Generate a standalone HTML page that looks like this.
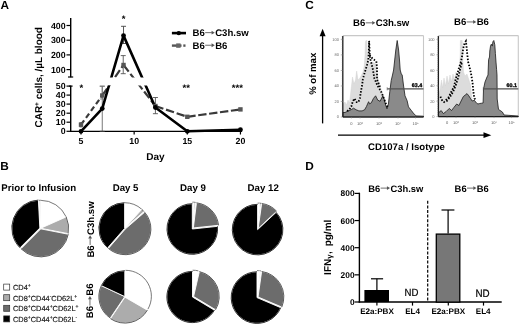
<!DOCTYPE html>
<html><head><meta charset="utf-8"><style>
html,body{margin:0;padding:0;background:#fff;}
svg{display:block;filter:grayscale(1);}
text{font-family:"Liberation Sans",sans-serif;text-rendering:geometricPrecision;}
</style></head><body>
<svg width="520" height="325" viewBox="0 0 520 325" font-family="Liberation Sans, sans-serif">
<rect width="520" height="325" fill="#fff"/>
<text x="0.5" y="9.4" font-size="11.8" font-weight="bold" text-anchor="start" fill="#000" >A</text>
<line x1="70.7" y1="18" x2="70.7" y2="77.3" stroke="#000" stroke-width="1.4" />
<line x1="68" y1="77" x2="73.2" y2="77" stroke="#000" stroke-width="1.2" />
<line x1="66.5" y1="25.5" x2="70.7" y2="25.5" stroke="#000" stroke-width="1.2" />
<text x="65.6" y="28.6" font-size="8.8" font-weight="bold" text-anchor="end" fill="#000" >400</text>
<line x1="66.5" y1="40.2" x2="70.7" y2="40.2" stroke="#000" stroke-width="1.2" />
<text x="65.6" y="43.300000000000004" font-size="8.8" font-weight="bold" text-anchor="end" fill="#000" >300</text>
<line x1="66.5" y1="54.9" x2="70.7" y2="54.9" stroke="#000" stroke-width="1.2" />
<text x="65.6" y="58.0" font-size="8.8" font-weight="bold" text-anchor="end" fill="#000" >200</text>
<line x1="66.5" y1="69.6" x2="70.7" y2="69.6" stroke="#000" stroke-width="1.2" />
<text x="65.6" y="72.69999999999999" font-size="8.8" font-weight="bold" text-anchor="end" fill="#000" >100</text>
<line x1="70.7" y1="85.8" x2="70.7" y2="131.9" stroke="#000" stroke-width="1.4" />
<line x1="68.9" y1="86.1" x2="72.6" y2="86.1" stroke="#000" stroke-width="1.2" />
<line x1="66.5" y1="86.1" x2="70.7" y2="86.1" stroke="#000" stroke-width="1.2" />
<text x="65.6" y="89.19999999999999" font-size="8.8" font-weight="bold" text-anchor="end" fill="#000" >50</text>
<line x1="66.5" y1="95.1" x2="70.7" y2="95.1" stroke="#000" stroke-width="1.2" />
<text x="65.6" y="98.19999999999999" font-size="8.8" font-weight="bold" text-anchor="end" fill="#000" >40</text>
<line x1="66.5" y1="104.1" x2="70.7" y2="104.1" stroke="#000" stroke-width="1.2" />
<text x="65.6" y="107.19999999999999" font-size="8.8" font-weight="bold" text-anchor="end" fill="#000" >30</text>
<line x1="66.5" y1="113.2" x2="70.7" y2="113.2" stroke="#000" stroke-width="1.2" />
<text x="65.6" y="116.3" font-size="8.8" font-weight="bold" text-anchor="end" fill="#000" >20</text>
<line x1="66.5" y1="122.2" x2="70.7" y2="122.2" stroke="#000" stroke-width="1.2" />
<text x="65.6" y="125.3" font-size="8.8" font-weight="bold" text-anchor="end" fill="#000" >10</text>
<line x1="66.5" y1="131.3" x2="70.7" y2="131.3" stroke="#000" stroke-width="1.2" />
<text x="65.6" y="134.4" font-size="8.8" font-weight="bold" text-anchor="end" fill="#000" >0</text>
<line x1="70.0" y1="131.3" x2="242" y2="131.3" stroke="#000" stroke-width="1.3" />
<line x1="81.0" y1="131.3" x2="81.0" y2="134.5" stroke="#000" stroke-width="1.2" />
<text x="81.0" y="143.8" font-size="8.8" font-weight="bold" text-anchor="middle" fill="#000" >5</text>
<line x1="134.15" y1="131.3" x2="134.15" y2="134.5" stroke="#000" stroke-width="1.2" />
<text x="134.15" y="143.8" font-size="8.8" font-weight="bold" text-anchor="middle" fill="#000" >10</text>
<line x1="187.3" y1="131.3" x2="187.3" y2="134.5" stroke="#000" stroke-width="1.2" />
<text x="187.3" y="143.8" font-size="8.8" font-weight="bold" text-anchor="middle" fill="#000" >15</text>
<line x1="240.45000000000002" y1="131.3" x2="240.45000000000002" y2="134.5" stroke="#000" stroke-width="1.2" />
<text x="240.45000000000002" y="143.8" font-size="8.8" font-weight="bold" text-anchor="middle" fill="#000" >20</text>
<text x="155.5" y="160.4" font-size="10" font-weight="bold" text-anchor="middle" fill="#000" >Day</text>
<text transform="translate(41.9,77.3) rotate(-90)" font-size="10" font-weight="bold" text-anchor="middle" fill="#000">CAR<tspan font-size="6.5" dy="-2.9">+</tspan><tspan dy="2.9"> cells, /µL blood</tspan></text>
<line x1="102.26" y1="86.2" x2="102.26" y2="131.3" stroke="#555" stroke-width="0.8" />
<line x1="99.76" y1="86.2" x2="104.76" y2="86.2" stroke="#555" stroke-width="0.8" />
<line x1="99.76" y1="131.3" x2="104.76" y2="131.3" stroke="#555" stroke-width="0.8" />
<line x1="123.52000000000001" y1="26.3" x2="123.52000000000001" y2="43.5" stroke="#444" stroke-width="0.9" />
<line x1="121.02000000000001" y1="26.3" x2="126.02000000000001" y2="26.3" stroke="#444" stroke-width="0.9" />
<line x1="121.02000000000001" y1="43.5" x2="126.02000000000001" y2="43.5" stroke="#444" stroke-width="0.9" />
<line x1="123.22000000000001" y1="55.6" x2="123.22000000000001" y2="73.7" stroke="#555" stroke-width="0.9" />
<line x1="120.72000000000001" y1="55.6" x2="125.72000000000001" y2="55.6" stroke="#555" stroke-width="0.9" />
<line x1="120.72000000000001" y1="73.7" x2="125.72000000000001" y2="73.7" stroke="#555" stroke-width="0.9" />
<line x1="155.41000000000003" y1="97.5" x2="155.41000000000003" y2="113.7" stroke="#555" stroke-width="0.9" />
<line x1="152.91000000000003" y1="97.5" x2="157.91000000000003" y2="97.5" stroke="#555" stroke-width="0.9" />
<line x1="152.91000000000003" y1="113.7" x2="157.91000000000003" y2="113.7" stroke="#555" stroke-width="0.9" />
<line x1="81.0" y1="122.5" x2="81.0" y2="127" stroke="#666" stroke-width="0.8" />
<line x1="79.5" y1="122.5" x2="82.5" y2="122.5" stroke="#666" stroke-width="0.8" />
<line x1="79.5" y1="127" x2="82.5" y2="127" stroke="#666" stroke-width="0.8" />
<line x1="102.26" y1="86.2" x2="102.26" y2="99" stroke="#777" stroke-width="0.8" />
<line x1="99.76" y1="86.2" x2="104.76" y2="86.2" stroke="#777" stroke-width="0.8" />
<line x1="99.76" y1="99" x2="104.76" y2="99" stroke="#777" stroke-width="0.8" />
<defs><clipPath id="brk"><rect x="0" y="0" width="300" height="77.6"/><rect x="0" y="85.6" width="300" height="60"/></clipPath></defs>
<g clip-path="url(#brk)">
<line x1="81.00" y1="124.7" x2="102.26" y2="95.5" stroke="#3a3a3a" stroke-width="2.2" stroke-dasharray="5.3,3.2"/>
<line x1="102.26" y1="95.5" x2="123.52" y2="65.0" stroke="#3a3a3a" stroke-width="2.2" stroke-dasharray="8.4,2.8"/>
<line x1="123.52" y1="65.0" x2="155.41" y2="106.0" stroke="#3a3a3a" stroke-width="2.2" stroke-dasharray="8.4,2.8"/>
<line x1="155.41" y1="106.0" x2="187.30" y2="116.8" stroke="#3a3a3a" stroke-width="2.2" stroke-dasharray="8.4,2.8"/>
<line x1="187.30" y1="116.8" x2="240.45" y2="109.4" stroke="#3a3a3a" stroke-width="2.2" stroke-dasharray="8.4,2.6"/>
<polyline points="81.00,131.3 102.26,108.6 123.52,35.6 155.41,107.5 187.30,131.3 240.45,129.7" fill="none" stroke="#000" stroke-width="2.6" stroke-linejoin="round"/></g>
<rect x="78.80" y="122.5" width="4.4" height="4.4" fill="#555"/>
<rect x="100.06" y="93.3" width="4.4" height="4.4" fill="#555"/>
<rect x="121.32" y="62.8" width="4.4" height="4.4" fill="#555"/>
<rect x="153.21" y="103.8" width="4.4" height="4.4" fill="#555"/>
<rect x="185.10" y="114.6" width="4.4" height="4.4" fill="#555"/>
<rect x="238.25" y="107.2" width="4.4" height="4.4" fill="#555"/>
<circle cx="81.00" cy="131.3" r="2.4" fill="#000"/>
<circle cx="102.26" cy="108.6" r="2.4" fill="#000"/>
<circle cx="123.52" cy="35.6" r="2.4" fill="#000"/>
<circle cx="155.41" cy="107.5" r="2.4" fill="#000"/>
<circle cx="187.30" cy="131.3" r="2.4" fill="#000"/>
<circle cx="240.45" cy="129.7" r="2.4" fill="#000"/>
<text x="81.3" y="91.0" font-size="9.5" font-weight="bold" text-anchor="middle" fill="#000" >*</text>
<text x="123.5" y="21.8" font-size="9.5" font-weight="bold" text-anchor="middle" fill="#000" >*</text>
<text x="186.2" y="90.5" font-size="9.5" font-weight="bold" text-anchor="middle" fill="#000" >**</text>
<text x="237.4" y="90.5" font-size="9.5" font-weight="bold" text-anchor="middle" fill="#000" >***</text>
<line x1="171.9" y1="33.1" x2="186" y2="33.1" stroke="#000" stroke-width="2.6" />
<circle cx="178.8" cy="33.1" r="2.2" fill="#000"/>
<line x1="171.9" y1="45.6" x2="181.5" y2="45.6" stroke="#555" stroke-width="2.4" />
<line x1="183.3" y1="45.6" x2="185.5" y2="45.6" stroke="#555" stroke-width="2.4" />
<rect x="176.2" y="43.4" width="4.4" height="4.4" fill="#666"/>
<g transform="translate(192.5,36.1)"><text x="0.00" y="0" font-size="9.6" font-weight="bold">B6</text><line x1="12.66" y1="-3.46" x2="19.39" y2="-3.46" stroke="#555" stroke-width="0.86"/><polygon points="19.09,-5.38 22.26,-3.46 19.09,-1.54" fill="#555"/><text x="22.64" y="0" font-size="9.6" font-weight="bold">C3h.sw</text></g>
<g transform="translate(192.5,48.7)"><text x="0.00" y="0" font-size="9.6" font-weight="bold">B6</text><line x1="12.66" y1="-3.46" x2="19.39" y2="-3.46" stroke="#555" stroke-width="0.86"/><polygon points="19.09,-5.38 22.26,-3.46 19.09,-1.54" fill="#555"/><text x="22.64" y="0" font-size="9.6" font-weight="bold">B6</text></g>
<text x="305.2" y="9.4" font-size="11.8" font-weight="bold" text-anchor="start" fill="#000" >C</text>
<g transform="translate(381.2,26.3)"><text x="-28.12" y="0" font-size="9.6" font-weight="bold">B6</text><line x1="-15.47" y1="-3.46" x2="-8.74" y2="-3.46" stroke="#555" stroke-width="0.86"/><polygon points="-9.04,-5.38 -5.87,-3.46 -9.04,-1.54" fill="#555"/><text x="-5.48" y="0" font-size="9.6" font-weight="bold">C3h.sw</text></g>
<g transform="translate(471.5,25.4)"><text x="-17.46" y="0" font-size="9.6" font-weight="bold">B6</text><line x1="-4.80" y1="-3.46" x2="1.93" y2="-3.46" stroke="#555" stroke-width="0.86"/><polygon points="1.63,-5.38 4.80,-3.46 1.63,-1.54" fill="#555"/><text x="5.18" y="0" font-size="9.6" font-weight="bold">B6</text></g>
<line x1="322.6" y1="35" x2="322.6" y2="123.4" stroke="#000" stroke-width="1.3" />
<polygon points="319.6,36.3 325.6,36.3 322.6,28.8" fill="#000"/>
<text transform="translate(316.4,73.8) rotate(-90)" font-size="9.6" font-weight="bold" text-anchor="middle" fill="#000">% of max</text>
<line x1="338" y1="135.2" x2="485" y2="135.2" stroke="#000" stroke-width="1.3" />
<polygon points="483.5,132.3 483.5,138.1 491.3,135.2" fill="#000"/>
<text x="368.1" y="150" font-size="9.6" font-weight="bold" text-anchor="start" fill="#000" >CD107a / Isotype</text>
<line x1="342.8" y1="35.6" x2="423.5" y2="35.6" stroke="#c8c8c8" stroke-width="1.4" />
<line x1="423.5" y1="35.6" x2="423.5" y2="117.0" stroke="#c8c8c8" stroke-width="1.1" />
<polygon points="343.0,117.0 343.0,104.0 345.0,102.0 346.5,105.0 348.0,100.0 349.5,103.0 351.0,90.0 352.5,77.0 354.0,84.0 355.5,80.0 356.7,71.0 358.0,80.0 360.0,78.0 361.5,75.0 363.0,72.0 364.2,66.0 365.0,55.0 365.4,42.0 366.0,40.5 366.8,40.5 367.2,50.0 368.0,60.0 370.0,64.0 372.0,62.0 374.0,63.0 376.0,64.0 377.0,70.0 378.0,78.0 380.0,86.0 382.0,92.0 384.0,98.0 386.0,106.0 387.0,117.0" fill="#dcdcdc" stroke="#d0d0d0" stroke-width="0.4"/>
<polygon points="343.0,117.0 343.0,112.5 345.0,112.5 348.0,111.0 351.3,109.6 353.5,108.2 356.2,109.8 358.9,110.9 362.1,110.9 364.6,109.8 366.4,106.6 368.6,101.7 369.6,103.9 371.3,102.8 373.4,98.5 375.6,95.8 377.7,100.1 380.1,101.3 382.8,95.8 384.2,99.2 385.6,104.8 387.0,108.9 388.4,104.1 389.8,91.6 391.2,80.5 392.5,75.0 393.6,70.0 394.7,60.0 395.8,50.0 397.2,40.5 398.6,50.0 399.5,60.0 400.2,70.0 401.3,74.0 402.2,75.0 403.6,86.1 405.0,95.8 407.1,100.6 408.5,106.9 411.2,110.3 413.3,113.1 416.1,115.9 423.5,116.2 423.5,117.0" fill="#8a8a8a" stroke="#1a1a1a" stroke-width="0.8" stroke-linejoin="round"/>
<polyline points="347.0,111.0 349.0,110.0 351.3,106.6 352.7,101.7 354.5,98.5 356.7,102.2 358.3,102.2 359.9,98.5 360.5,94.2 361.3,89.3 362.1,85.5 362.8,79.6 364.0,75.0 365.5,70.0 367.0,65.0 368.3,60.0 368.8,52.0 369.0,45.0 369.1,40.8 369.4,46.0 369.6,52.0 370.0,58.0 371.6,64.0 373.0,70.0 373.8,75.0 374.4,78.5 377.5,85.7 380.8,90.9 382.7,95.4 384.5,100.0 386.0,104.0 388.0,108.0" fill="none" stroke="#000" stroke-width="1.8" stroke-dasharray="1.5,1.6"/>
<polyline points="369.6,55.0 372.0,58.0 374.5,60.0 376.3,61.2 377.0,67.3 377.0,79.6 380.6,88.3" fill="none" stroke="#000" stroke-width="1.8" stroke-dasharray="1.5,1.6"/>
<line x1="342.8" y1="36.1" x2="342.8" y2="117.0" stroke="#1a1a1a" stroke-width="1.3" />
<line x1="340.8" y1="117.0" x2="342.8" y2="117.0" stroke="#888" stroke-width="0.6" />
<text x="339.0" y="118.4" font-size="4.0" text-anchor="end" fill="#666">0</text>
<line x1="340.8" y1="101.48" x2="342.8" y2="101.48" stroke="#888" stroke-width="0.6" />
<text x="339.0" y="102.88000000000001" font-size="4.0" text-anchor="end" fill="#666">20</text>
<line x1="340.8" y1="85.96" x2="342.8" y2="85.96" stroke="#888" stroke-width="0.6" />
<text x="339.0" y="87.36" font-size="4.0" text-anchor="end" fill="#666">40</text>
<line x1="340.8" y1="70.44" x2="342.8" y2="70.44" stroke="#888" stroke-width="0.6" />
<text x="339.0" y="71.84" font-size="4.0" text-anchor="end" fill="#666">60</text>
<line x1="340.8" y1="54.919999999999995" x2="342.8" y2="54.919999999999995" stroke="#888" stroke-width="0.6" />
<text x="339.0" y="56.31999999999999" font-size="4.0" text-anchor="end" fill="#666">80</text>
<line x1="340.8" y1="39.39999999999999" x2="342.8" y2="39.39999999999999" stroke="#888" stroke-width="0.6" />
<text x="339.0" y="40.79999999999999" font-size="4.0" text-anchor="end" fill="#666">100</text>
<line x1="341.8" y1="36.6" x2="342.8" y2="36.6" stroke="#555" stroke-width="0.4" />
<line x1="341.8" y1="38.61" x2="342.8" y2="38.61" stroke="#555" stroke-width="0.4" />
<line x1="341.8" y1="40.620000000000005" x2="342.8" y2="40.620000000000005" stroke="#555" stroke-width="0.4" />
<line x1="341.8" y1="42.63" x2="342.8" y2="42.63" stroke="#555" stroke-width="0.4" />
<line x1="341.8" y1="44.64" x2="342.8" y2="44.64" stroke="#555" stroke-width="0.4" />
<line x1="341.8" y1="46.650000000000006" x2="342.8" y2="46.650000000000006" stroke="#555" stroke-width="0.4" />
<line x1="341.8" y1="48.660000000000004" x2="342.8" y2="48.660000000000004" stroke="#555" stroke-width="0.4" />
<line x1="341.8" y1="50.67" x2="342.8" y2="50.67" stroke="#555" stroke-width="0.4" />
<line x1="341.8" y1="52.68000000000001" x2="342.8" y2="52.68000000000001" stroke="#555" stroke-width="0.4" />
<line x1="341.8" y1="54.69" x2="342.8" y2="54.69" stroke="#555" stroke-width="0.4" />
<line x1="341.8" y1="56.7" x2="342.8" y2="56.7" stroke="#555" stroke-width="0.4" />
<line x1="341.8" y1="58.71000000000001" x2="342.8" y2="58.71000000000001" stroke="#555" stroke-width="0.4" />
<line x1="341.8" y1="60.72" x2="342.8" y2="60.72" stroke="#555" stroke-width="0.4" />
<line x1="341.8" y1="62.730000000000004" x2="342.8" y2="62.730000000000004" stroke="#555" stroke-width="0.4" />
<line x1="341.8" y1="64.74000000000001" x2="342.8" y2="64.74000000000001" stroke="#555" stroke-width="0.4" />
<line x1="341.8" y1="66.75" x2="342.8" y2="66.75" stroke="#555" stroke-width="0.4" />
<line x1="341.8" y1="68.76" x2="342.8" y2="68.76" stroke="#555" stroke-width="0.4" />
<line x1="341.8" y1="70.77000000000001" x2="342.8" y2="70.77000000000001" stroke="#555" stroke-width="0.4" />
<line x1="341.8" y1="72.78" x2="342.8" y2="72.78" stroke="#555" stroke-width="0.4" />
<line x1="341.8" y1="74.79" x2="342.8" y2="74.79" stroke="#555" stroke-width="0.4" />
<line x1="341.8" y1="76.80000000000001" x2="342.8" y2="76.80000000000001" stroke="#555" stroke-width="0.4" />
<line x1="341.8" y1="78.81" x2="342.8" y2="78.81" stroke="#555" stroke-width="0.4" />
<line x1="341.8" y1="80.82000000000001" x2="342.8" y2="80.82000000000001" stroke="#555" stroke-width="0.4" />
<line x1="341.8" y1="82.83000000000001" x2="342.8" y2="82.83000000000001" stroke="#555" stroke-width="0.4" />
<line x1="341.8" y1="84.84" x2="342.8" y2="84.84" stroke="#555" stroke-width="0.4" />
<line x1="341.8" y1="86.85000000000001" x2="342.8" y2="86.85000000000001" stroke="#555" stroke-width="0.4" />
<line x1="341.8" y1="88.86000000000001" x2="342.8" y2="88.86000000000001" stroke="#555" stroke-width="0.4" />
<line x1="341.8" y1="90.87" x2="342.8" y2="90.87" stroke="#555" stroke-width="0.4" />
<line x1="341.8" y1="92.88000000000001" x2="342.8" y2="92.88000000000001" stroke="#555" stroke-width="0.4" />
<line x1="341.8" y1="94.89000000000001" x2="342.8" y2="94.89000000000001" stroke="#555" stroke-width="0.4" />
<line x1="341.8" y1="96.9" x2="342.8" y2="96.9" stroke="#555" stroke-width="0.4" />
<line x1="341.8" y1="98.91" x2="342.8" y2="98.91" stroke="#555" stroke-width="0.4" />
<line x1="341.8" y1="100.92000000000002" x2="342.8" y2="100.92000000000002" stroke="#555" stroke-width="0.4" />
<line x1="341.8" y1="102.93" x2="342.8" y2="102.93" stroke="#555" stroke-width="0.4" />
<line x1="341.8" y1="104.94" x2="342.8" y2="104.94" stroke="#555" stroke-width="0.4" />
<line x1="341.8" y1="106.94999999999999" x2="342.8" y2="106.94999999999999" stroke="#555" stroke-width="0.4" />
<line x1="341.8" y1="108.96000000000001" x2="342.8" y2="108.96000000000001" stroke="#555" stroke-width="0.4" />
<line x1="341.8" y1="110.97" x2="342.8" y2="110.97" stroke="#555" stroke-width="0.4" />
<line x1="341.8" y1="112.98000000000002" x2="342.8" y2="112.98000000000002" stroke="#555" stroke-width="0.4" />
<line x1="341.8" y1="114.99000000000001" x2="342.8" y2="114.99000000000001" stroke="#555" stroke-width="0.4" />
<line x1="342.8" y1="117.0" x2="423.5" y2="117.0" stroke="#1a1a1a" stroke-width="1.1" />
<line x1="351.4" y1="117.0" x2="351.4" y2="118.5" stroke="#888" stroke-width="0.5" />
<text x="351.4" y="124.6" font-size="4.0" text-anchor="middle" fill="#555">0</text>
<line x1="360" y1="117.0" x2="360" y2="118.5" stroke="#888" stroke-width="0.5" />
<text x="360" y="124.6" font-size="4.0" text-anchor="middle" fill="#555">10²</text>
<line x1="379" y1="117.0" x2="379" y2="118.5" stroke="#888" stroke-width="0.5" />
<text x="379" y="124.6" font-size="4.0" text-anchor="middle" fill="#555">10³</text>
<line x1="398" y1="117.0" x2="398" y2="118.5" stroke="#888" stroke-width="0.5" />
<text x="398" y="124.6" font-size="4.0" text-anchor="middle" fill="#555">10⁴</text>
<line x1="415.5" y1="117.0" x2="415.5" y2="118.5" stroke="#888" stroke-width="0.5" />
<text x="415.5" y="124.6" font-size="4.0" text-anchor="middle" fill="#555">10⁵</text>
<line x1="387.2" y1="88.8" x2="423.5" y2="88.8" stroke="#505050" stroke-width="1.3" />
<line x1="387.2" y1="87.2" x2="387.2" y2="90.39999999999999" stroke="#555" stroke-width="0.6" />
<text x="422.1" y="86.8" font-size="5.3" font-weight="bold" text-anchor="end" fill="#000" stroke="#000" stroke-width="0.3">63.4</text>
<line x1="438.4" y1="35.6" x2="518.3" y2="35.6" stroke="#c8c8c8" stroke-width="1.4" />
<line x1="518.3" y1="35.6" x2="518.3" y2="116.6" stroke="#c8c8c8" stroke-width="1.1" />
<polygon points="438.5,116.6 438.5,95.0 440.0,90.0 441.5,80.0 442.6,88.0 444.0,78.0 445.5,86.0 447.0,76.0 448.5,84.0 450.0,75.0 451.5,82.0 453.0,74.0 454.5,80.0 456.0,72.0 457.5,78.0 459.0,70.0 460.2,55.0 460.4,40.5 462.2,40.5 462.6,55.0 463.5,72.0 465.0,76.0 467.0,74.0 469.0,80.0 470.5,85.0 471.5,95.0 473.0,104.0 475.0,116.6" fill="#dcdcdc" stroke="#d0d0d0" stroke-width="0.4"/>
<polygon points="438.5,116.6 438.5,112.8 441.2,110.6 443.4,113.6 446.3,111.4 449.3,108.4 451.5,110.6 453.7,107.7 456.7,104.0 458.9,105.5 461.1,101.0 463.3,96.6 465.2,95.1 467.0,93.6 468.8,95.8 470.7,98.8 472.2,101.0 474.4,100.3 476.6,103.2 478.0,104.0 479.6,103.5 481.8,103.2 483.1,103.0 483.5,89.0 485.0,82.0 487.0,77.0 488.0,75.0 488.6,59.6 489.5,57.0 489.8,51.0 490.5,46.1 491.3,44.2 492.3,46.1 492.9,41.8 493.8,40.5 494.8,44.8 495.4,53.5 496.0,62.1 496.6,69.5 497.0,75.0 497.2,99.0 498.5,109.4 502.4,112.0 504.0,115.0 518.3,116.0 518.3,116.6" fill="#8a8a8a" stroke="#1a1a1a" stroke-width="0.8" stroke-linejoin="round"/>
<polyline points="440.4,96.6 442.4,101.0 444.0,102.0 446.0,100.0 448.5,97.5 451.2,92.0 453.9,86.8 455.6,79.6 457.4,73.4 459.2,67.1 461.0,61.8 462.3,55.0 463.3,48.0 464.5,43.5 465.9,41.2 466.6,47.3 467.2,53.5 468.1,61.8 469.5,67.0 470.8,72.5 471.8,78.0 472.6,83.2 473.5,93.0 474.4,98.4 476.0,100.0" fill="none" stroke="#000" stroke-width="1.8" stroke-dasharray="1.5,1.6"/>
<polyline points="446.5,101.5 450.0,97.0 453.0,92.0 455.5,86.0 457.5,80.0 459.0,74.0 460.5,68.0 462.0,62.0" fill="none" stroke="#000" stroke-width="1.8" stroke-dasharray="1.5,1.6"/>
<line x1="438.4" y1="36.1" x2="438.4" y2="116.6" stroke="#1a1a1a" stroke-width="1.3" />
<line x1="436.4" y1="116.6" x2="438.4" y2="116.6" stroke="#888" stroke-width="0.6" />
<text x="434.59999999999997" y="118.0" font-size="4.0" text-anchor="end" fill="#666">0</text>
<line x1="436.4" y1="101.16" x2="438.4" y2="101.16" stroke="#888" stroke-width="0.6" />
<text x="434.59999999999997" y="102.56" font-size="4.0" text-anchor="end" fill="#666">20</text>
<line x1="436.4" y1="85.72" x2="438.4" y2="85.72" stroke="#888" stroke-width="0.6" />
<text x="434.59999999999997" y="87.12" font-size="4.0" text-anchor="end" fill="#666">40</text>
<line x1="436.4" y1="70.27999999999999" x2="438.4" y2="70.27999999999999" stroke="#888" stroke-width="0.6" />
<text x="434.59999999999997" y="71.67999999999999" font-size="4.0" text-anchor="end" fill="#666">60</text>
<line x1="436.4" y1="54.83999999999999" x2="438.4" y2="54.83999999999999" stroke="#888" stroke-width="0.6" />
<text x="434.59999999999997" y="56.23999999999999" font-size="4.0" text-anchor="end" fill="#666">80</text>
<line x1="436.4" y1="39.39999999999999" x2="438.4" y2="39.39999999999999" stroke="#888" stroke-width="0.6" />
<text x="434.59999999999997" y="40.79999999999999" font-size="4.0" text-anchor="end" fill="#666">100</text>
<line x1="437.4" y1="36.6" x2="438.4" y2="36.6" stroke="#555" stroke-width="0.4" />
<line x1="437.4" y1="38.6" x2="438.4" y2="38.6" stroke="#555" stroke-width="0.4" />
<line x1="437.4" y1="40.6" x2="438.4" y2="40.6" stroke="#555" stroke-width="0.4" />
<line x1="437.4" y1="42.6" x2="438.4" y2="42.6" stroke="#555" stroke-width="0.4" />
<line x1="437.4" y1="44.6" x2="438.4" y2="44.6" stroke="#555" stroke-width="0.4" />
<line x1="437.4" y1="46.6" x2="438.4" y2="46.6" stroke="#555" stroke-width="0.4" />
<line x1="437.4" y1="48.6" x2="438.4" y2="48.6" stroke="#555" stroke-width="0.4" />
<line x1="437.4" y1="50.6" x2="438.4" y2="50.6" stroke="#555" stroke-width="0.4" />
<line x1="437.4" y1="52.6" x2="438.4" y2="52.6" stroke="#555" stroke-width="0.4" />
<line x1="437.4" y1="54.6" x2="438.4" y2="54.6" stroke="#555" stroke-width="0.4" />
<line x1="437.4" y1="56.6" x2="438.4" y2="56.6" stroke="#555" stroke-width="0.4" />
<line x1="437.4" y1="58.6" x2="438.4" y2="58.6" stroke="#555" stroke-width="0.4" />
<line x1="437.4" y1="60.6" x2="438.4" y2="60.6" stroke="#555" stroke-width="0.4" />
<line x1="437.4" y1="62.6" x2="438.4" y2="62.6" stroke="#555" stroke-width="0.4" />
<line x1="437.4" y1="64.6" x2="438.4" y2="64.6" stroke="#555" stroke-width="0.4" />
<line x1="437.4" y1="66.6" x2="438.4" y2="66.6" stroke="#555" stroke-width="0.4" />
<line x1="437.4" y1="68.6" x2="438.4" y2="68.6" stroke="#555" stroke-width="0.4" />
<line x1="437.4" y1="70.6" x2="438.4" y2="70.6" stroke="#555" stroke-width="0.4" />
<line x1="437.4" y1="72.6" x2="438.4" y2="72.6" stroke="#555" stroke-width="0.4" />
<line x1="437.4" y1="74.6" x2="438.4" y2="74.6" stroke="#555" stroke-width="0.4" />
<line x1="437.4" y1="76.6" x2="438.4" y2="76.6" stroke="#555" stroke-width="0.4" />
<line x1="437.4" y1="78.6" x2="438.4" y2="78.6" stroke="#555" stroke-width="0.4" />
<line x1="437.4" y1="80.6" x2="438.4" y2="80.6" stroke="#555" stroke-width="0.4" />
<line x1="437.4" y1="82.6" x2="438.4" y2="82.6" stroke="#555" stroke-width="0.4" />
<line x1="437.4" y1="84.6" x2="438.4" y2="84.6" stroke="#555" stroke-width="0.4" />
<line x1="437.4" y1="86.6" x2="438.4" y2="86.6" stroke="#555" stroke-width="0.4" />
<line x1="437.4" y1="88.6" x2="438.4" y2="88.6" stroke="#555" stroke-width="0.4" />
<line x1="437.4" y1="90.6" x2="438.4" y2="90.6" stroke="#555" stroke-width="0.4" />
<line x1="437.4" y1="92.6" x2="438.4" y2="92.6" stroke="#555" stroke-width="0.4" />
<line x1="437.4" y1="94.6" x2="438.4" y2="94.6" stroke="#555" stroke-width="0.4" />
<line x1="437.4" y1="96.6" x2="438.4" y2="96.6" stroke="#555" stroke-width="0.4" />
<line x1="437.4" y1="98.6" x2="438.4" y2="98.6" stroke="#555" stroke-width="0.4" />
<line x1="437.4" y1="100.6" x2="438.4" y2="100.6" stroke="#555" stroke-width="0.4" />
<line x1="437.4" y1="102.6" x2="438.4" y2="102.6" stroke="#555" stroke-width="0.4" />
<line x1="437.4" y1="104.6" x2="438.4" y2="104.6" stroke="#555" stroke-width="0.4" />
<line x1="437.4" y1="106.6" x2="438.4" y2="106.6" stroke="#555" stroke-width="0.4" />
<line x1="437.4" y1="108.6" x2="438.4" y2="108.6" stroke="#555" stroke-width="0.4" />
<line x1="437.4" y1="110.6" x2="438.4" y2="110.6" stroke="#555" stroke-width="0.4" />
<line x1="437.4" y1="112.6" x2="438.4" y2="112.6" stroke="#555" stroke-width="0.4" />
<line x1="437.4" y1="114.6" x2="438.4" y2="114.6" stroke="#555" stroke-width="0.4" />
<line x1="438.4" y1="116.6" x2="518.3" y2="116.6" stroke="#1a1a1a" stroke-width="1.1" />
<line x1="447" y1="116.6" x2="447" y2="118.1" stroke="#888" stroke-width="0.5" />
<text x="447" y="124.19999999999999" font-size="4.0" text-anchor="middle" fill="#555">0</text>
<line x1="456" y1="116.6" x2="456" y2="118.1" stroke="#888" stroke-width="0.5" />
<text x="456" y="124.19999999999999" font-size="4.0" text-anchor="middle" fill="#555">10²</text>
<line x1="475" y1="116.6" x2="475" y2="118.1" stroke="#888" stroke-width="0.5" />
<text x="475" y="124.19999999999999" font-size="4.0" text-anchor="middle" fill="#555">10³</text>
<line x1="494" y1="116.6" x2="494" y2="118.1" stroke="#888" stroke-width="0.5" />
<text x="494" y="124.19999999999999" font-size="4.0" text-anchor="middle" fill="#555">10⁴</text>
<line x1="511.5" y1="116.6" x2="511.5" y2="118.1" stroke="#888" stroke-width="0.5" />
<text x="511.5" y="124.19999999999999" font-size="4.0" text-anchor="middle" fill="#555">10⁵</text>
<line x1="483.3" y1="88.9" x2="518.3" y2="88.9" stroke="#505050" stroke-width="1.3" />
<line x1="483.3" y1="87.30000000000001" x2="483.3" y2="90.5" stroke="#555" stroke-width="0.6" />
<text x="516.9" y="86.9" font-size="5.3" font-weight="bold" text-anchor="end" fill="#000" stroke="#000" stroke-width="0.3">60.1</text>
<text x="0.3" y="169.6" font-size="11.8" font-weight="bold" text-anchor="start" fill="#000" >B</text>
<text x="1.3" y="190.8" font-size="9.7" font-weight="bold" text-anchor="start" fill="#000" >Prior to Infusion</text>
<text x="125.6" y="190.8" font-size="9.7" font-weight="bold" text-anchor="middle" fill="#000" >Day 5</text>
<text x="193.0" y="190.8" font-size="9.7" font-weight="bold" text-anchor="middle" fill="#000" >Day 9</text>
<text x="263.2" y="190.8" font-size="9.7" font-weight="bold" text-anchor="middle" fill="#000" >Day 12</text>
<g transform="translate(93.6,229.5) rotate(-90)"><text x="-28.12" y="0" font-size="9.6" font-weight="bold">B6</text><line x1="-15.47" y1="-3.46" x2="-8.74" y2="-3.46" stroke="#555" stroke-width="0.86"/><polygon points="-9.04,-5.38 -5.87,-3.46 -9.04,-1.54" fill="#555"/><text x="-5.48" y="0" font-size="9.6" font-weight="bold">C3h.sw</text></g>
<g transform="translate(93.4,300.8) rotate(-90)"><text x="-17.46" y="0" font-size="9.6" font-weight="bold">B6</text><line x1="-4.80" y1="-3.46" x2="1.93" y2="-3.46" stroke="#555" stroke-width="0.86"/><polygon points="1.63,-5.38 4.80,-3.46 1.63,-1.54" fill="#555"/><text x="5.18" y="0" font-size="9.6" font-weight="bold">B6</text></g>
<path d="M40.60,228.30 L40.60,200.30 A28.0,28.0 0 0 1 66.18,216.91 Z" fill="#ffffff" stroke="#fff" stroke-width="0.9" stroke-linejoin="round"/>
<path d="M40.60,200.30 A28.0,28.0 0 0 1 66.18,216.91" fill="none" stroke="#555" stroke-width="0.8"/>
<path d="M40.60,228.30 L66.18,216.91 A28.0,28.0 0 0 1 68.09,233.64 Z" fill="#acacac" stroke="#fff" stroke-width="0.9" stroke-linejoin="round"/>
<path d="M66.18,216.91 A28.0,28.0 0 0 1 68.09,233.64" fill="none" stroke="#333" stroke-width="0.8"/>
<path d="M40.78,228.87 L68.26,234.22 A28.0,28.0 0 0 1 20.98,248.67 Z" fill="#6c6c6c" stroke="#fff" stroke-width="0.9" stroke-linejoin="round"/>
<path d="M68.26,234.22 A28.0,28.0 0 0 1 20.98,248.67" fill="none" stroke="#333" stroke-width="0.8"/>
<path d="M39.85,228.01 L20.05,247.81 A28.0,28.0 0 0 1 38.39,200.05 Z" fill="#000000" stroke="#fff" stroke-width="0.9" stroke-linejoin="round"/>
<path d="M20.05,247.81 A28.0,28.0 0 0 1 38.39,200.05" fill="none" stroke="#000" stroke-width="0.8"/>
<path d="M40.60,228.30 L39.13,200.34 A28.0,28.0 0 0 1 40.60,200.30 Z" fill="#acacac" stroke="#fff" stroke-width="0.9" stroke-linejoin="round"/>
<path d="M39.13,200.34 A28.0,28.0 0 0 1 40.60,200.30" fill="none" stroke="#333" stroke-width="0.8"/>
<path d="M124.60,228.40 L124.60,202.70 A25.7,25.7 0 0 1 141.80,209.30 Z" fill="#ffffff" stroke="#fff" stroke-width="0.9" stroke-linejoin="round"/>
<path d="M124.60,202.70 A25.7,25.7 0 0 1 141.80,209.30" fill="none" stroke="#555" stroke-width="0.8"/>
<path d="M124.60,228.40 L141.80,209.30 A25.7,25.7 0 0 1 144.00,211.54 Z" fill="#acacac" stroke="#fff" stroke-width="0.9" stroke-linejoin="round"/>
<path d="M141.80,209.30 A25.7,25.7 0 0 1 144.00,211.54" fill="none" stroke="#333" stroke-width="0.8"/>
<path d="M125.24,229.04 L144.63,212.18 A25.7,25.7 0 0 1 108.38,248.43 Z" fill="#6c6c6c" stroke="#fff" stroke-width="0.9" stroke-linejoin="round"/>
<path d="M144.63,212.18 A25.7,25.7 0 0 1 108.38,248.43" fill="none" stroke="#333" stroke-width="0.8"/>
<path d="M124.60,228.40 L107.74,247.80 A25.7,25.7 0 0 1 124.60,202.70 Z" fill="#000000" stroke="#fff" stroke-width="0.9" stroke-linejoin="round"/>
<path d="M107.74,247.80 A25.7,25.7 0 0 1 124.60,202.70" fill="none" stroke="#000" stroke-width="0.8"/>
<path d="M192.35,227.50 L192.35,202.20 A25.3,25.3 0 0 1 194.12,202.26 Z" fill="#ffffff" stroke="#fff" stroke-width="0.9" stroke-linejoin="round"/>
<path d="M192.35,202.20 A25.3,25.3 0 0 1 194.12,202.26" fill="none" stroke="#555" stroke-width="0.8"/>
<path d="M192.44,227.51 L194.21,202.27 A25.3,25.3 0 0 1 195.53,202.40 Z" fill="#acacac" stroke="#fff" stroke-width="0.9" stroke-linejoin="round"/>
<path d="M194.21,202.27 A25.3,25.3 0 0 1 195.53,202.40" fill="none" stroke="#333" stroke-width="0.8"/>
<path d="M193.37,227.95 L196.45,202.84 A25.3,25.3 0 0 1 218.53,225.30 Z" fill="#6c6c6c" stroke="#fff" stroke-width="0.9" stroke-linejoin="round"/>
<path d="M196.45,202.84 A25.3,25.3 0 0 1 218.53,225.30" fill="none" stroke="#333" stroke-width="0.8"/>
<path d="M192.30,229.00 L217.46,226.36 A25.3,25.3 0 1 1 192.30,203.70 Z" fill="#000000" stroke="#fff" stroke-width="0.9" stroke-linejoin="round"/>
<path d="M217.46,226.36 A25.3,25.3 0 1 1 192.30,203.70" fill="none" stroke="#000" stroke-width="0.8"/>
<path d="M257.65,228.40 L257.65,203.10 A25.3,25.3 0 0 1 259.86,203.20 Z" fill="#ffffff" stroke="#fff" stroke-width="0.9" stroke-linejoin="round"/>
<path d="M257.65,203.10 A25.3,25.3 0 0 1 259.86,203.20" fill="none" stroke="#555" stroke-width="0.8"/>
<path d="M257.74,228.41 L259.94,203.20 A25.3,25.3 0 0 1 261.26,203.35 Z" fill="#acacac" stroke="#fff" stroke-width="0.9" stroke-linejoin="round"/>
<path d="M259.94,203.20 A25.3,25.3 0 0 1 261.26,203.35" fill="none" stroke="#333" stroke-width="0.8"/>
<path d="M258.15,228.54 L261.68,203.48 A25.3,25.3 0 0 1 276.66,211.28 Z" fill="#6c6c6c" stroke="#fff" stroke-width="0.9" stroke-linejoin="round"/>
<path d="M261.68,203.48 A25.3,25.3 0 0 1 276.66,211.28" fill="none" stroke="#333" stroke-width="0.8"/>
<path d="M257.60,229.60 L276.10,212.35 A25.3,25.3 0 1 1 257.60,204.30 Z" fill="#000000" stroke="#fff" stroke-width="0.9" stroke-linejoin="round"/>
<path d="M276.10,212.35 A25.3,25.3 0 1 1 257.60,204.30" fill="none" stroke="#000" stroke-width="0.8"/>
<path d="M125.49,296.20 L125.49,270.30 A25.9,25.9 0 0 1 147.92,309.15 Z" fill="#ffffff" stroke="#fff" stroke-width="0.9" stroke-linejoin="round"/>
<path d="M125.49,270.30 A25.9,25.9 0 0 1 147.92,309.15" fill="none" stroke="#555" stroke-width="0.8"/>
<path d="M124.93,297.18 L147.37,310.13 A25.9,25.9 0 0 1 110.45,318.66 Z" fill="#acacac" stroke="#fff" stroke-width="0.9" stroke-linejoin="round"/>
<path d="M147.37,310.13 A25.9,25.9 0 0 1 110.45,318.66" fill="none" stroke="#333" stroke-width="0.8"/>
<path d="M124.80,296.60 L110.32,318.07 A25.9,25.9 0 0 1 101.33,285.65 Z" fill="#6c6c6c" stroke="#fff" stroke-width="0.9" stroke-linejoin="round"/>
<path d="M110.32,318.07 A25.9,25.9 0 0 1 101.33,285.65" fill="none" stroke="#333" stroke-width="0.8"/>
<path d="M124.80,296.60 L101.33,285.65 A25.9,25.9 0 0 1 124.80,270.70 Z" fill="#000000" stroke="#fff" stroke-width="0.9" stroke-linejoin="round"/>
<path d="M101.33,285.65 A25.9,25.9 0 0 1 124.80,270.70" fill="none" stroke="#000" stroke-width="0.8"/>
<path d="M192.64,295.81 L192.64,270.21 A25.6,25.6 0 0 1 198.39,270.86 Z" fill="#ffffff" stroke="#fff" stroke-width="0.9" stroke-linejoin="round"/>
<path d="M192.64,270.21 A25.6,25.6 0 0 1 198.39,270.86" fill="none" stroke="#555" stroke-width="0.8"/>
<path d="M193.60,296.53 L199.36,271.59 A25.6,25.6 0 0 1 215.55,309.72 Z" fill="#6c6c6c" stroke="#fff" stroke-width="0.9" stroke-linejoin="round"/>
<path d="M199.36,271.59 A25.6,25.6 0 0 1 215.55,309.72" fill="none" stroke="#333" stroke-width="0.8"/>
<path d="M192.50,297.00 L214.44,310.18 A25.6,25.6 0 1 1 192.50,271.40 Z" fill="#000000" stroke="#fff" stroke-width="0.9" stroke-linejoin="round"/>
<path d="M214.44,310.18 A25.6,25.6 0 1 1 192.50,271.40" fill="none" stroke="#000" stroke-width="0.8"/>
<path d="M257.06,296.40 L257.06,270.60 A25.8,25.8 0 0 1 259.76,270.74 Z" fill="#ffffff" stroke="#fff" stroke-width="0.9" stroke-linejoin="round"/>
<path d="M257.06,270.60 A25.8,25.8 0 0 1 259.76,270.74" fill="none" stroke="#555" stroke-width="0.8"/>
<path d="M257.15,296.41 L259.84,270.75 A25.8,25.8 0 0 1 260.74,270.86 Z" fill="#acacac" stroke="#fff" stroke-width="0.9" stroke-linejoin="round"/>
<path d="M259.84,270.75 A25.8,25.8 0 0 1 260.74,270.86" fill="none" stroke="#333" stroke-width="0.8"/>
<path d="M258.04,297.01 L261.64,271.46 A25.8,25.8 0 0 1 281.79,307.09 Z" fill="#6c6c6c" stroke="#fff" stroke-width="0.9" stroke-linejoin="round"/>
<path d="M261.64,271.46 A25.8,25.8 0 0 1 281.79,307.09" fill="none" stroke="#333" stroke-width="0.8"/>
<path d="M257.00,297.60 L280.75,307.68 A25.8,25.8 0 1 1 257.00,271.80 Z" fill="#000000" stroke="#fff" stroke-width="0.9" stroke-linejoin="round"/>
<path d="M280.75,307.68 A25.8,25.8 0 1 1 257.00,271.80" fill="none" stroke="#000" stroke-width="0.8"/>
<rect x="3.7" y="284.1" width="6.0" height="6.0" fill="#ffffff" stroke="#333" stroke-width="0.7"/>
<text x="13.0" y="290.1" font-size="7.4" font-weight="normal" text-anchor="start" fill="#111" stroke="#111" stroke-width="0.15">CD4<tspan font-size="5.0" dy="-2.9">+</tspan></text>
<rect x="3.7" y="294.7" width="6.0" height="6.0" fill="#acacac" stroke="#333" stroke-width="0.7"/>
<text x="13.0" y="300.70000000000005" font-size="7.4" font-weight="normal" text-anchor="start" fill="#111" stroke="#111" stroke-width="0.15">CD8<tspan font-size="5.0" dy="-2.9">+</tspan><tspan dy="2.9">CD44</tspan><tspan font-size="5.0" dy="-2.9">-</tspan><tspan dy="2.9">CD62L</tspan><tspan font-size="5.0" dy="-2.9">+</tspan></text>
<rect x="3.7" y="305.3" width="6.0" height="6.0" fill="#6c6c6c" stroke="#333" stroke-width="0.7"/>
<text x="13.0" y="311.3" font-size="7.4" font-weight="normal" text-anchor="start" fill="#111" stroke="#111" stroke-width="0.15">CD8<tspan font-size="5.0" dy="-2.9">+</tspan><tspan dy="2.9">CD44</tspan><tspan font-size="5.0" dy="-2.9">+</tspan><tspan dy="2.9">CD62L</tspan><tspan font-size="5.0" dy="-2.9">+</tspan></text>
<rect x="3.7" y="315.9" width="6.0" height="6.0" fill="#000000" stroke="#333" stroke-width="0.7"/>
<text x="13.0" y="321.90000000000003" font-size="7.4" font-weight="normal" text-anchor="start" fill="#111" stroke="#111" stroke-width="0.15">CD8<tspan font-size="5.0" dy="-2.9">+</tspan><tspan dy="2.9">CD44</tspan><tspan font-size="5.0" dy="-2.9">+</tspan><tspan dy="2.9">CD62L</tspan><tspan font-size="5.0" dy="-2.9">-</tspan></text>
<text x="305.2" y="169.5" font-size="11.8" font-weight="bold" text-anchor="start" fill="#000" >D</text>
<line x1="359.4" y1="192.7" x2="359.4" y2="302.6" stroke="#000" stroke-width="1.4" />
<line x1="354.6" y1="302.0" x2="359.4" y2="302.0" stroke="#000" stroke-width="1.2" />
<text x="354.6" y="305.0" font-size="8.4" font-weight="bold" text-anchor="end" fill="#000" >0</text>
<line x1="354.6" y1="274.85" x2="359.4" y2="274.85" stroke="#000" stroke-width="1.2" />
<text x="354.6" y="277.85" font-size="8.4" font-weight="bold" text-anchor="end" fill="#000" >200</text>
<line x1="354.6" y1="247.7" x2="359.4" y2="247.7" stroke="#000" stroke-width="1.2" />
<text x="354.6" y="250.7" font-size="8.4" font-weight="bold" text-anchor="end" fill="#000" >400</text>
<line x1="354.6" y1="220.55" x2="359.4" y2="220.55" stroke="#000" stroke-width="1.2" />
<text x="354.6" y="223.55" font-size="8.4" font-weight="bold" text-anchor="end" fill="#000" >600</text>
<line x1="354.6" y1="193.39999999999998" x2="359.4" y2="193.39999999999998" stroke="#000" stroke-width="1.2" />
<text x="354.6" y="196.39999999999998" font-size="8.4" font-weight="bold" text-anchor="end" fill="#000" >800</text>
<line x1="358.7" y1="302.0" x2="501.7" y2="302.0" stroke="#000" stroke-width="1.4" />
<line x1="376.9" y1="302" x2="376.9" y2="305.6" stroke="#000" stroke-width="1.2" />
<line x1="412.5" y1="302" x2="412.5" y2="305.6" stroke="#000" stroke-width="1.2" />
<line x1="448.3" y1="302" x2="448.3" y2="305.6" stroke="#000" stroke-width="1.2" />
<line x1="483.5" y1="302" x2="483.5" y2="305.6" stroke="#000" stroke-width="1.2" />
<text x="377.0" y="313.8" font-size="8.1" font-weight="bold" text-anchor="middle" fill="#000" >E2a:PBX</text>
<text x="412.6" y="313.8" font-size="8.1" font-weight="bold" text-anchor="middle" fill="#000" >EL4</text>
<text x="448.3" y="313.8" font-size="8.1" font-weight="bold" text-anchor="middle" fill="#000" >E2a:PBX</text>
<text x="483.2" y="313.8" font-size="8.1" font-weight="bold" text-anchor="middle" fill="#000" >EL4</text>
<rect x="364.4" y="290" width="24.6" height="12" fill="#000"/>
<line x1="376.9" y1="290" x2="376.9" y2="278.8" stroke="#000" stroke-width="1.2" />
<line x1="371" y1="278.8" x2="383.1" y2="278.8" stroke="#000" stroke-width="1.2" />
<rect x="436.3" y="234.1" width="23.5" height="68" fill="#777" stroke="#000" stroke-width="1.3"/>
<line x1="448.1" y1="233.5" x2="448.1" y2="210" stroke="#000" stroke-width="1.2" />
<line x1="441.5" y1="210" x2="454.4" y2="210" stroke="#000" stroke-width="1.2" />
<text x="411.5" y="296.3" font-size="9.6" font-weight="normal" text-anchor="middle" fill="#000" stroke="#000" stroke-width="0.2" transform="translate(0,296.3) scale(1,1.1) translate(0,-296.3)">ND</text>
<text x="482.5" y="296.5" font-size="9.8" font-weight="normal" text-anchor="middle" fill="#000" stroke="#000" stroke-width="0.2" transform="translate(0,296.5) scale(1,1.1) translate(0,-296.5)">ND</text>
<line x1="427.7" y1="200.8" x2="427.7" y2="301" stroke="#000" stroke-width="1.2" stroke-dasharray="3,1.6"/>
<g transform="translate(395.8,191.5)"><text x="-27.54" y="0" font-size="9.4" font-weight="bold">B6</text><line x1="-15.15" y1="-3.38" x2="-8.55" y2="-3.38" stroke="#555" stroke-width="0.85"/><polygon points="-8.85,-5.26 -5.75,-3.38 -8.85,-1.50" fill="#555"/><text x="-5.37" y="0" font-size="9.4" font-weight="bold">C3h.sw</text></g>
<g transform="translate(471.7,191.5)"><text x="-17.09" y="0" font-size="9.4" font-weight="bold">B6</text><line x1="-4.70" y1="-3.38" x2="1.90" y2="-3.38" stroke="#555" stroke-width="0.85"/><polygon points="1.60,-5.26 4.70,-3.38 1.60,-1.50" fill="#555"/><text x="5.08" y="0" font-size="9.4" font-weight="bold">B6</text></g>
<text transform="translate(331.3,274.9) rotate(-90)" font-size="10.0" font-weight="bold" text-anchor="start" fill="#000">IFN<tspan font-size="7.8" dy="1.0">γ</tspan><tspan dy="-1.0" dx="0.5">,</tspan><tspan dx="4.8">pg/ml</tspan></text>
</svg></body></html>
